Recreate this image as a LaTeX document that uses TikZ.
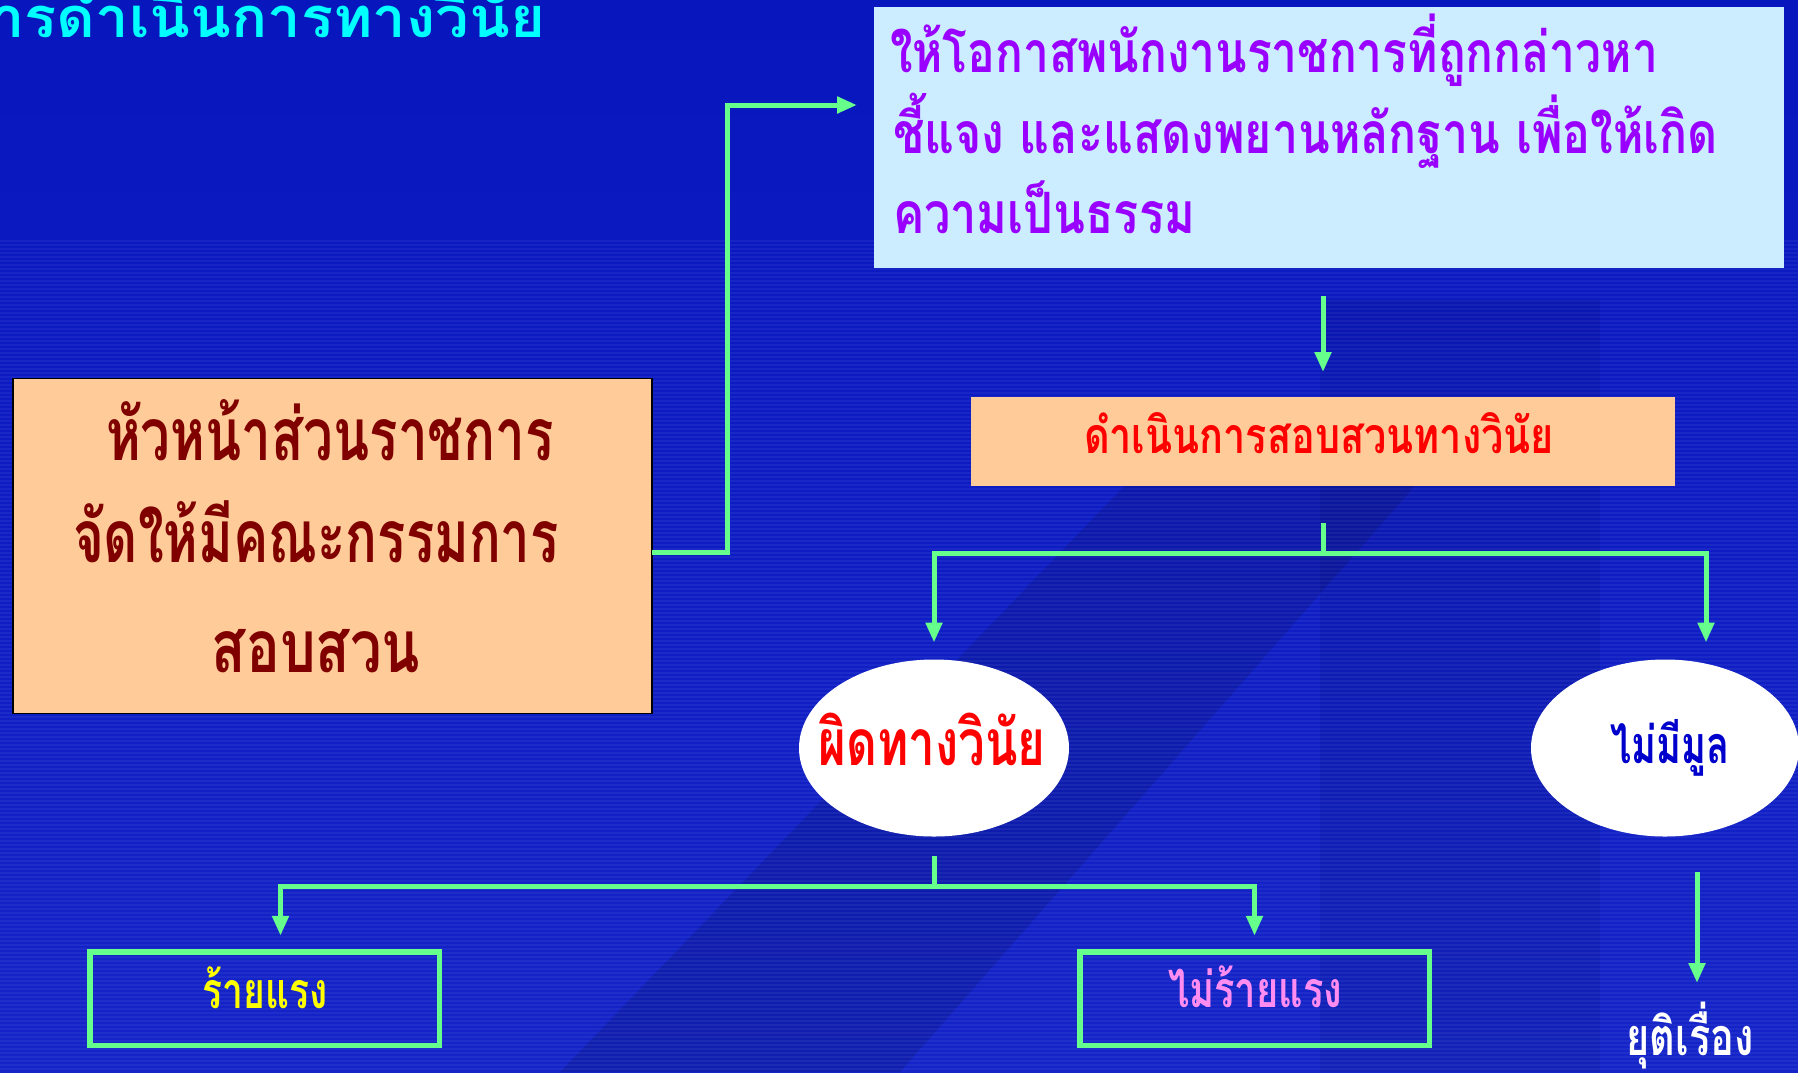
\documentclass[tikz,border=0pt]{standalone}
\usepackage{fontspec}
\usepackage{graphicx}
\usetikzlibrary{arrows.meta,shapes.geometric}
\newfontfamily\thaifont[Script=Thai]{Loma}
\newcommand\thtxt[3]{\resizebox{#1pt}{\height}{\fontsize{#2pt}{#2pt}\selectfont\thaifont\bfseries #3}}
\definecolor{bgtop}{RGB}{8,22,190}
\definecolor{bgmid}{RGB}{44,76,238}
\definecolor{bgbot}{RGB}{20,36,200}
\definecolor{lgreen}{RGB}{102,255,140}
\definecolor{peach}{RGB}{255,204,153}
\definecolor{lblue}{RGB}{204,236,255}
\definecolor{tpurple}{RGB}{153,0,255}
\definecolor{dred}{RGB}{128,0,0}
\definecolor{tblue}{RGB}{0,0,204}
\definecolor{tpink}{RGB}{255,140,240}
\definecolor{tcyan}{RGB}{0,255,255}
\definecolor{tred}{RGB}{255,0,0}
\definecolor{tyellow}{RGB}{255,255,0}
\begin{document}
\begin{tikzpicture}[x=1pt,y=-1pt,
  box/.style={rectangle, inner sep=0pt, outer sep=0pt},
  oval/.style={ellipse, fill=white, inner sep=0pt, outer sep=0pt},
  gbox/.style={box, draw=lgreen, line width=5.5pt},
  txt/.style={inner sep=0pt, outer sep=0pt, anchor=base},
  conn/.style={draw=lgreen, line width=5pt},
  arr/.style={conn, -{Triangle[width=16pt,length=20pt]}}]
\useasboundingbox (0,0) rectangle (1798,1072);
\shade[top color=bgtop, middle color=bgmid, bottom color=bgbot] (0,0) rectangle (1798,1072);
\fill[black, opacity=0.12] (560,1072) -- (1130,480) -- (1420,480) -- (900,1072) -- cycle;
\fill[black, opacity=0.08] (1320,1072) -- (1320,300) -- (1600,300) -- (1600,1072) -- cycle;
\foreach \yy in {240,244,...,1068} \fill[white, opacity=0.05] (0,\yy) rectangle (1798,\yy+1.5);
% title
\node[txt, anchor=base east, text=tcyan] (title) at (545,37) {\thtxt{590}{56}{การดำเนินการทางวินัย}};
% boxes
\node[box, fill=peach, draw=black, line width=1.5pt, minimum width=639pt, minimum height=335pt] (lbox) at (332.5,546) {};
\node[box, fill=lblue, minimum width=910pt, minimum height=261pt] (tbox) at (1329,137.5) {};
\node[box, fill=peach, minimum width=704pt, minimum height=89pt] (mbox) at (1323,441.5) {};
\node[oval, minimum width=270pt, minimum height=177pt] (e1) at (934,748) {};
\node[oval, minimum width=268pt, minimum height=177pt] (e2) at (1665,748) {};
\node[gbox, minimum width=349.5pt, minimum height=93.5pt] (b1) at (264.5,998.5) {};
\node[gbox, minimum width=349.5pt, minimum height=93.5pt] (b2) at (1254.5,998.5) {};
% texts
\node[txt, anchor=base west, text=tpurple] (t1) at (890,72) {\thtxt{768}{57}{ให้โอกาสพนักงานราชการที่ถูกกล่าวหา}};
\node[txt, anchor=base west, text=tpurple] (t2) at (893,153) {\thtxt{825}{57}{ชี้แจง และแสดงพยานหลักฐาน เพื่อให้เกิด}};
\node[txt, anchor=base west, text=tpurple] (t3) at (893,233) {\thtxt{302}{57}{ความเป็นธรรม}};
\node[txt, text=dred] (l1) at (330,460) {\thtxt{448}{73}{หัวหน้าส่วนราชการ}};
\node[txt, text=dred] (l2) at (316,562) {\thtxt{486}{73}{จัดให้มีคณะกรรมการ}};
\node[txt, text=dred] (l3) at (316,672) {\thtxt{208}{73}{สอบสวน}};
\node[txt, text=tred] (mt) at (1319,453) {\thtxt{470}{50}{ดำเนินการสอบสวนทางวินัย}};
\node[txt, text=tred] (e1t) at (932,765) {\thtxt{227}{64}{ผิดทางวินัย}};
\node[txt, text=tblue] (e2t) at (1670,763) {\thtxt{119}{52}{ไม่มีมูล}};
\node[txt, text=tyellow] (b1t) at (265,1008) {\thtxt{125}{50}{ร้ายแรง}};
\node[txt, text=tpink] (b2t) at (1255,1007) {\thtxt{174}{50}{ไม่ร้ายแรง}};
\node[txt, text=white] (endt) at (1690,1055) {\thtxt{127}{52}{ยุติเรื่อง}};
% connectors
\coordinate (c1) at (857,105);
\coordinate (c2) at (1697,983);
\draw[arr] ([yshift=-6pt]lbox.east) -- ++(75,0) |- (c1);
\draw[arr, shorten <=28pt, shorten >=25pt] (tbox.south -| mbox.north) -- (mbox.north);
\draw[conn, shorten <=37pt] (mbox.south) -- ++(0,67) coordinate (j1);
\draw[arr, shorten >=17pt] (j1) -| (e1.north);
\draw[arr, shorten >=17pt] (j1) -| ([xshift=41pt]e2.north);
\draw[conn, shorten <=19pt] (e1.south) -- ++(0,50) coordinate (j2);
\draw[arr, shorten >=16pt] (j2) -| ([xshift=16pt]b1.north);
\draw[arr, shorten >=16pt] (j2) -| (b2.north);
\draw[arr, shorten <=35pt] (e2.south -| c2) -- (c2);
\end{tikzpicture}
\end{document}
